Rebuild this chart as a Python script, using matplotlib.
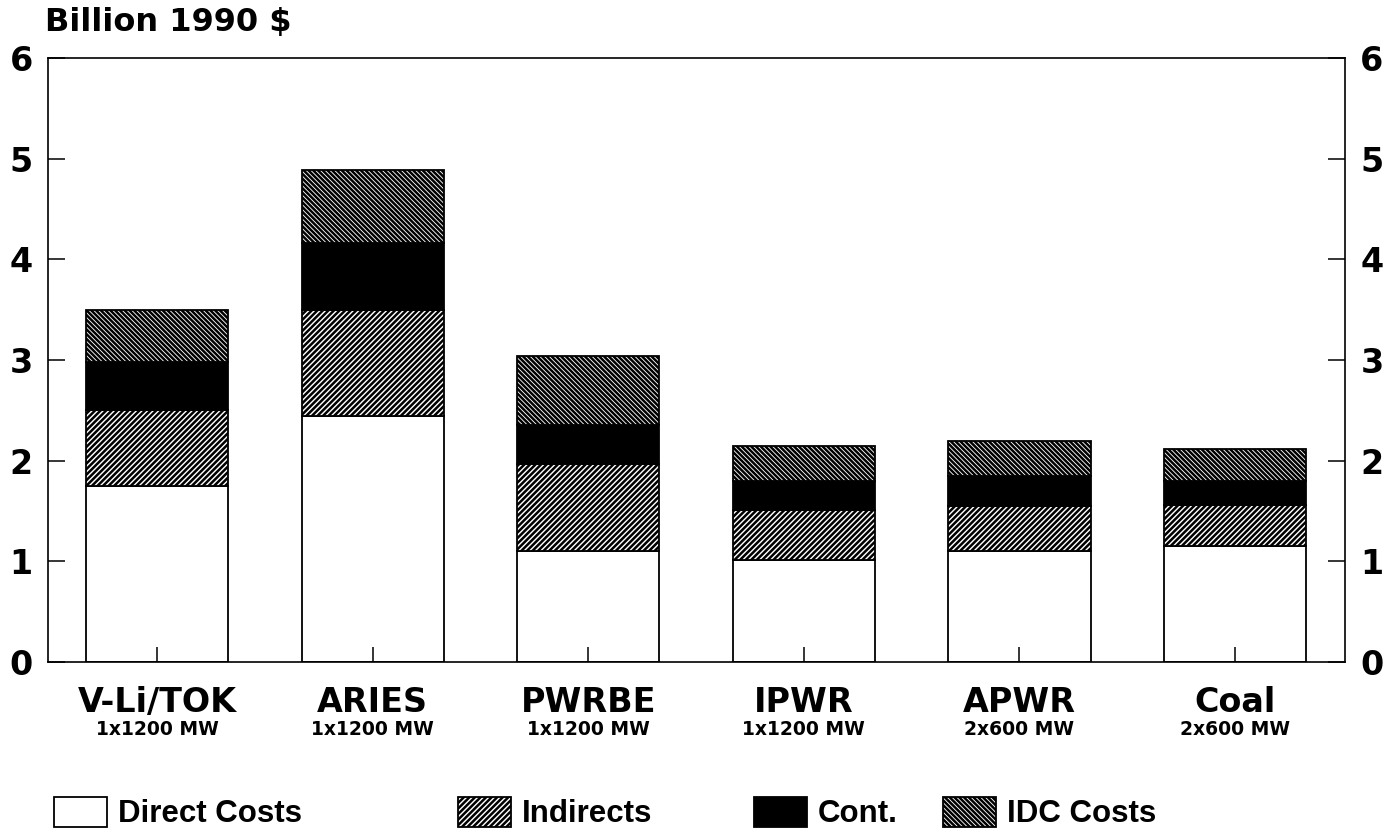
import matplotlib
matplotlib.use("Agg")
import matplotlib.pyplot as plt
from matplotlib import font_manager
import numpy as np

categories = ["V-Li/TOK", "ARIES", "PWRBE", "IPWR", "APWR", "Coal"]
sublabels = ["1x1200 MW", "1x1200 MW", "1x1200 MW", "1x1200 MW", "2x600 MW", "2x600 MW"]
direct = [1.75, 2.44, 1.10, 1.01, 1.10, 1.15]
indirects = [0.75, 1.06, 0.87, 0.50, 0.45, 0.41]
cont = [0.48, 0.66, 0.38, 0.29, 0.30, 0.24]
idc = [0.52, 0.73, 0.69, 0.35, 0.35, 0.32]
series_names = ["Direct Costs", "Indirects", "Cont.", "IDC Costs"]
yticks = [0, 1, 2, 3, 4, 5, 6]

names = {f.name for f in font_manager.fontManager.ttflist}
if "Liberation Sans Narrow" in names:
    legend_prop = dict(family="Liberation Sans Narrow", size=25, weight="bold")
else:
    legend_prop = dict(family="Liberation Sans", size=22.5, weight="bold")
main_font = "DejaVu Sans"

plt.rcParams["hatch.linewidth"] = 1.8
plt.rcParams["font.family"] = main_font

W, H = 1385, 834
fig = plt.figure(figsize=(W / 100, H / 100), dpi=100)
ax = fig.add_axes([48 / W, 1 - 662 / H, (1345 - 48) / W, (662 - 58) / H])

x = np.arange(len(categories))
bw = 0.66
lw = 1.3
bottom = np.zeros(len(categories))
styles = [
    dict(facecolor="white", hatch=None),
    dict(facecolor="white", hatch="//////"),
    dict(facecolor="black", hatch=None),
    dict(facecolor="white", hatch="\\" * 7),
]
containers = []
for vals, st, nm in zip([direct, indirects, cont, idc], styles, series_names):
    bc = ax.bar(x, vals, bw, bottom=bottom, facecolor=st["facecolor"], hatch=st["hatch"],
                edgecolor="black", linewidth=lw, label=nm, zorder=2)
    containers.append(bc)
    bottom = bottom + np.array(vals)

ax.set_axisbelow(False)
ax.set_xlim(-0.506, 5.51)
ax.set_ylim(0, 6)
for s in ax.spines.values():
    s.set_linewidth(1.2)

ax.set_xticks(x)
ax.set_xticklabels(categories, fontsize=24, fontweight="bold", fontfamily=main_font)
ax.tick_params(axis="x", direction="in", length=11, width=1.1, pad=17, top=False)
ax.set_yticks(yticks)
ax.set_yticklabels([str(t) for t in yticks], fontsize=24, fontweight="bold")
ax.tick_params(axis="y", direction="in", length=12, width=1.1, pad=11,
               left=True, right=True, labelleft=True, labelright=True)

for i, s in enumerate(sublabels):
    ax.text(i, -0.111, s, transform=ax.get_xaxis_transform(), ha="center", va="center",
            fontsize=13.5, fontweight="bold", fontfamily=main_font)

fig.text(45 / W, 1 - 23 / H, "Billion 1990 $", fontsize=23, fontweight="bold",
         ha="left", va="center", fontfamily=main_font)

leg_x = [54, 458, 754, 943]
for bc, nm, lx in zip(containers, series_names, leg_x):
    fig.legend([bc], [nm], loc="center left", bbox_to_anchor=(lx / W, 1 - 813 / H),
               frameon=False, borderpad=0, borderaxespad=0, handlelength=1.7,
               handleheight=1.1, handletextpad=0.35, prop=legend_prop)

fig.savefig("out.png", dpi=100)
